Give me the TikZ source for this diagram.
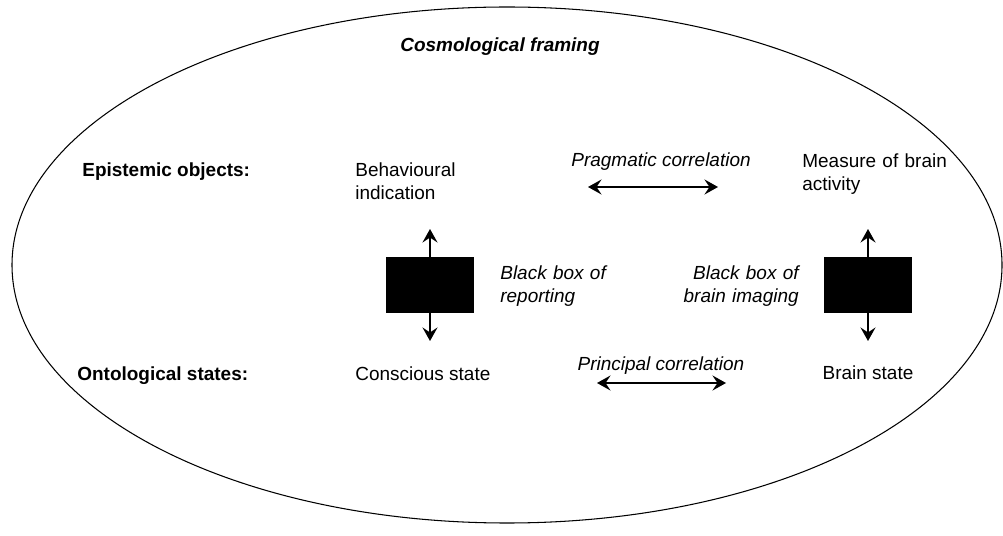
\documentclass[tikz,border=0pt]{standalone}
\usepackage{fontspec}
\setmainfont{Liberation Sans}
\usetikzlibrary{arrows.meta}

\tikzset{
	txt/.style={inner sep=0pt, font=\fontsize{10.8}{12.6}\selectfont},
	head/.style={txt, font=\fontsize{10.8}{12.6}\selectfont\bfseries},
	note/.style={txt, font=\fontsize{10.8}{12.6}\selectfont\itshape},
	blackbox/.style={rectangle, fill=black, inner sep=0pt, minimum width=1.76cm, minimum height=1.12cm},
	twoway/.style={<->, line width=1.1pt},
}

\begin{document}
\begin{tikzpicture}[x=0.02cm, y=-0.02cm, >={Stealth[length=0.27cm, width=0.3cm, inset=0.1cm]}]
	\useasboundingbox (0,0) rectangle (1003,536);
	\draw[line width=0.6pt] (507,265) ellipse [x radius=495, y radius=258];

	\path
		(500,52) node[head, font=\fontsize{10.8}{12.6}\selectfont\bfseries\itshape, anchor=base] (frame) {Cosmological framing}
		(82,177) node[head, anchor=base west] (epist) {Epistemic objects:}
		(77,380) node[head, anchor=base west] (onto) {Ontological states:}
		(355,177) node[txt, anchor=base west, align=left, text width=3cm] (behav) {Behavioural\\indication}
		(802,168) node[txt, anchor=base west, align=left, text width=3.2cm] (measure) {Measure of brain\\activity}
		(355,380) node[txt, anchor=base west] (consc) {Conscious state}
		(868,379) node[txt, anchor=base] (bstate) {Brain state}
		(661,167) node[note, anchor=base] (pragm) {Pragmatic correlation}
		(661,371) node[note, anchor=base] (princ) {Principal correlation}
		(500,280) node[note, anchor=base west, align=left, text width=2.6cm] (report) {Black box of\\reporting}
		(799,280) node[note, anchor=base east, align=right, text width=2.6cm] (imaging) {Black box of\\brain imaging}
		(430,285) node[blackbox] (boxL) {}
		(868,285) node[blackbox] (boxR) {}
		(430,229) coordinate (upL)
		(430,341) coordinate (downL)
		(868,229) coordinate (upR)
		(868,341) coordinate (downR)
		(588,187) coordinate (pragmA)
		(718,187) coordinate (pragmB)
		(597,383) coordinate (princA)
		(726,383) coordinate (princB)
	;

	\draw[twoway] (pragmA) -- (pragmB);
	\draw[twoway] (princA) -- (princB);
	\draw[->, line width=1.1pt] (boxL.north) -- (upL);
	\draw[->, line width=1.1pt] (boxL.south) -- (downL);
	\draw[->, line width=1.1pt] (boxR.north) -- (upR);
	\draw[->, line width=1.1pt] (boxR.south) -- (downR);
\end{tikzpicture}
\end{document}
